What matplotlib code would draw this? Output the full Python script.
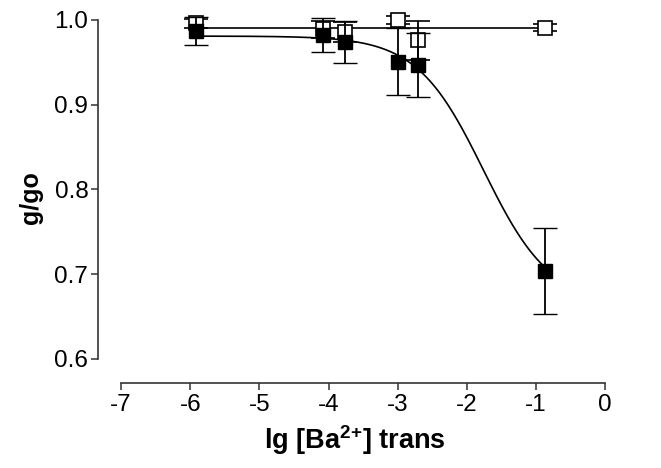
import numpy as np
import matplotlib
matplotlib.use("Agg")
import matplotlib.pyplot as plt

plt.rcParams['font.family'] = ['Liberation Sans', 'DejaVu Sans']
plt.rcParams['mathtext.fontset'] = 'custom'
plt.rcParams['mathtext.rm'] = 'Liberation Sans'
plt.rcParams['mathtext.bf'] = 'Liberation Sans:bold'

# ---- data ----
x_vals = [-5.91, -4.08, -3.76, -3.00, -2.70, -0.87]
filled_y = [0.987, 0.982, 0.974, 0.951, 0.947, 0.704]
filled_err = [0.016, 0.020, 0.025, 0.039, 0.038, 0.051]
open_y = [0.996, 0.989, 0.986, 1.000, 0.976, 0.991]
open_err = [0.005, 0.010, 0.012, 0.005, 0.023, 0.004]

# fitted curves
fit_top = 0.981
fit_bottom = 0.665
fit_logx0 = -1.76
fit_hill = 0.9
flat_level = 0.9905

x_ticks = [-7, -6, -5, -4, -3, -2, -1, 0]
y_ticks = [0.6, 0.7, 0.8, 0.9, 1.0]

fig = plt.figure(figsize=(6.61, 4.68), dpi=100)
ax = fig.add_axes([0.1483, 0.1823, 0.7776, 0.7895])

xs = np.linspace(min(x_vals), max(x_vals), 300)
curve = fit_bottom + (fit_top - fit_bottom) / (1 + 10 ** ((xs - fit_logx0) * fit_hill))
ax.plot(xs, curve, color='black', lw=1.2, zorder=1)
ax.plot([min(x_vals), max(x_vals)], [flat_level, flat_level], color='black', lw=1.2, zorder=1)

ax.errorbar(x_vals, open_y, yerr=open_err, fmt='s', ms=10, mfc='white', mec='black',
            mew=1.2, ecolor='black', elinewidth=1.3, capsize=8.5, capthick=1.3,
            zorder=2, clip_on=False)
ax.errorbar(x_vals, filled_y, yerr=filled_err, fmt='s', ms=10, mfc='black', mec='black',
            mew=1.0, ecolor='black', elinewidth=1.3, capsize=8.5, capthick=1.3,
            zorder=3, clip_on=False)

ax.set_xlim(-7.333, 0.1)
ax.set_ylim(0.572, 1.008)
ax.spines['top'].set_visible(False)
ax.spines['right'].set_visible(False)
ax.spines['left'].set_bounds(0.6, 1.0)
ax.spines['bottom'].set_bounds(-7, 0)
for s in ('left', 'bottom'):
    ax.spines[s].set_color('#333333')
    ax.spines[s].set_linewidth(1.2)

ax.set_xticks(x_ticks)
ax.set_xticklabels([str(t) for t in x_ticks])
ax.set_yticks(y_ticks)
ax.set_yticklabels([f"{t:.1f}" for t in y_ticks])
ax.tick_params(axis='both', direction='out', length=5, width=1.1, colors='#333333',
               labelcolor='black', labelsize=17.5)
ax.tick_params(axis='x', pad=3)
ax.tick_params(axis='y', pad=2)

ax.set_xlabel(r'lg [Ba$^{\mathbf{2{+}}}$] trans', fontsize=19.5, fontweight='bold', labelpad=5)
ax.set_ylabel('g/go', fontsize=18, fontweight='bold', labelpad=8)

fig.savefig('out.png', dpi=100, facecolor='white')
